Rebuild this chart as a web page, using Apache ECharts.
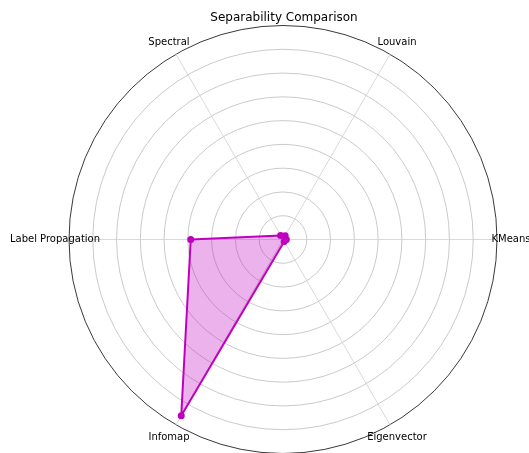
<!DOCTYPE html>
<html><head><meta charset="utf-8">
<script src="https://cdn.jsdelivr.net/npm/echarts@6/dist/echarts.min.js"></script>
<style>html,body{margin:0;padding:0;background:#fff}#c{width:529px;height:453px}</style>
</head><body><div id="c"></div>
<script>
const categories = ['KMeans', 'Louvain', 'Spectral', 'Label Propagation', 'Infomap', 'Eigenvector'];
const values = [0.14, 0.18, 0.2, 3.88, 8.56, 0.1];
const maxValue = 9;
const chart = echarts.init(document.getElementById('c'));
const ringColors = [];
for (let i = 0; i < 9; i++) ringColors.push('#c4c4c4');
ringColors.push('#222222');
chart.setOption({
  animation: false,
  title: {text: 'Separability Comparison', left: 279, top: 7, textAlign: 'center',
    textStyle: {fontFamily: 'DejaVu Sans', fontSize: 12, fontWeight: 'normal', color: '#000'}},
  radar: {
    center: [283, 239.5], radius: 214, startAngle: 0, shape: 'circle', splitNumber: 9,
    indicator: categories.map(n => ({name: n, min: 0, max: maxValue})),
    nameGap: 14,
    axisName: {color: '#000', fontFamily: 'DejaVu Sans', fontSize: 10, align: 'center', verticalAlign: 'middle'},
    axisLine: {lineStyle: {color: '#cfcfcf', width: 0.8}},
    splitLine: {lineStyle: {color: ringColors, width: 0.9}},
    splitArea: {show: false},
    axisTick: {show: false}, axisLabel: {show: false}
  },
  series: [{
    type: 'radar',
    symbol: 'circle', symbolSize: 7,
    lineStyle: {color: '#bf00bf', width: 2},
    itemStyle: {color: '#bf00bf'},
    areaStyle: {color: '#bf00bf', opacity: 0.3},
    data: [{value: values}]
  }]
});
</script></body></html>
